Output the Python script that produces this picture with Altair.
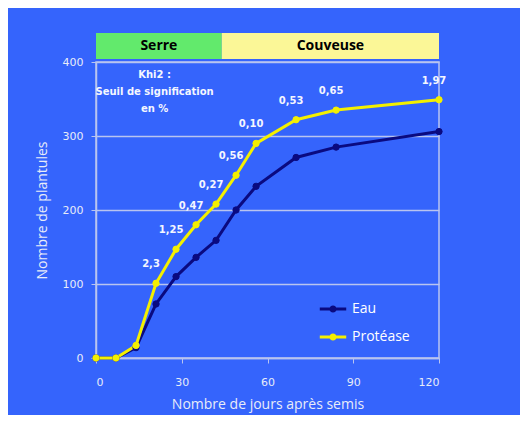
import altair as alt
import pandas as pd

days = [0, 7, 14, 21, 28, 35, 42, 49, 56, 70, 84, 120]
eau = [0, 0, 14, 73, 110, 136, 159, 200, 232, 271, 285, 306]
protease = [0, 0, 17, 101, 147, 180, 208, 247, 290, 322, 335, 349]
series = ["Eau", "Protéase"]
series_colors = ["#0a0a80", "#f4f000"]
khi2_days = [21, 28, 35, 42, 49, 56, 70, 84, 120]
khi2_labels = ["2,3", "1,25", "0,47", "0,27", "0,56", "0,10", "0,53", "0,65", "1,97"]
phase_names = ["Serre", "Couveuse"]
phase_start = [0, 44]
phase_end = [44, 120]

rows = []
for d, e, p in zip(days, eau, protease):
    rows.append({"jour": d, "n": e, "serie": series[0]})
    rows.append({"jour": d, "n": p, "serie": series[1]})
df = pd.DataFrame(rows)

prot_map = dict(zip(days, protease))
lab_df = pd.DataFrame({"jour": khi2_days, "lab": khi2_labels,
                       "n": [prot_map[d] for d in khi2_days]})
phase_df = pd.DataFrame({"phase": phase_names, "x0": phase_start, "x1": phase_end})

TXT = "#e8ecf8"
FRAME = "#b9c4ef"

xs = alt.Scale(domain=[0, 120], nice=False)
ys = alt.Scale(domain=[0, 400], nice=False)
sscale = alt.Scale(domain=series, range=series_colors)
leg = alt.Legend(
    title=None, orient="none", legendX=222, legendY=232,
    symbolType="M-1,0H1M0.16,0A0.16,0.16,0,1,1,-0.16,0A0.16,0.16,0,1,1,0.16,0",
    symbolSize=700, symbolStrokeWidth=3, labelFontSize=14,
    labelColor="#ffffff", labelFont="Open Sans", rowPadding=4,
    labelOffset=4,
)

x_enc = alt.X("jour:Q", scale=xs,
              axis=alt.Axis(values=[0, 30, 60, 90, 120], grid=False,
                            title="Nombre de jours après semis",
                            labelPadding=13, titlePadding=10))
y_enc = alt.Y("n:Q", scale=ys,
              axis=alt.Axis(values=[0, 100, 200, 300, 400], grid=True,
                            title="Nombre de plantules",
                            labelPadding=8, titlePadding=13))

lines = alt.Chart(df).mark_line(strokeWidth=3).encode(
    x=x_enc, y=y_enc, stroke=alt.Stroke("serie:N", scale=sscale, legend=leg))
points = alt.Chart(df).mark_point(filled=True, size=40, opacity=1, strokeWidth=1).encode(
    x="jour:Q", y="n:Q",
    fill=alt.Fill("serie:N", scale=sscale, legend=leg),
    stroke=alt.Stroke("serie:N", scale=sscale, legend=leg))

labels = alt.Chart(lab_df).mark_text(
    dx=-5, dy=-19, fontSize=10, fontWeight="bold", color="#f4f6ff", font="DejaVu Sans"
).encode(x="jour:Q", y="n:Q", text="lab:N")

khi = alt.Chart(pd.DataFrame({"t": [["Khi2 :", "Seuil de signification", "en %"]]})).mark_text(
    fontSize=10, fontWeight="bold", color="#f4f6ff", font="DejaVu Sans",
    baseline="middle", lineHeight=17, align="center"
).encode(x=alt.datum(20.5), y=alt.datum(383), text="t")

bands = alt.Chart(phase_df).mark_rect(clip=False).encode(
    x="x0:Q", x2="x1:Q", y=alt.value(-29), y2=alt.value(-3),
    color=alt.Color("phase:N", scale=alt.Scale(domain=phase_names, range=["#62ea6c", "#fbf797"]),
                    legend=None),
)
band_txt = alt.Chart(phase_df).transform_calculate(mid="(datum.x0 + datum.x1) / 2").mark_text(
    fontSize=14, fontWeight="bold", color="#000000", font="Open Sans"
).encode(x="mid:Q", y=alt.value(-16), text="phase:N")

chart = alt.layer(lines, points, labels, khi, bands, band_txt).properties(
    width=343, height=296,
    padding={"left": 88, "top": 54, "right": 81, "bottom": 57},
    autosize=alt.AutoSizeParams(type="none"),
    background="#3564fc",
).configure_view(
    stroke=FRAME, strokeWidth=1.5
).configure_axis(
    labelColor=TXT, labelFont="DejaVu Sans", labelFontSize=11,
    titleColor=TXT, titleFont="Open Sans", titleFontSize=14, titleFontWeight="normal",
    domainColor=FRAME, domainWidth=1.5, tickColor=FRAME, tickSize=5,
    gridColor=FRAME, gridWidth=1.5,
)

chart.save("out.html", embed_options={"renderer": "svg", "actions": False})
